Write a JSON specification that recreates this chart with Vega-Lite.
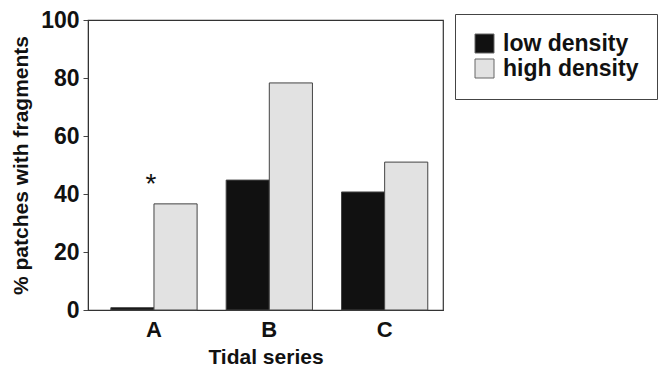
{
  "$schema": "https://vega.github.io/schema/vega-lite/v6.json",
  "width": 355,
  "height": 290,
  "autosize": "none",
  "padding": {"left": 88, "top": 20, "right": 215, "bottom": 59},
  "background": "white",
  "config": {
    "font": "Liberation Sans",
    "view": {"stroke": "#333", "strokeWidth": 1.2}
  },
  "datasets": {
    "bars": [
      {"series": "A", "density": "low density", "percent": 0.8},
      {"series": "A", "density": "high density", "percent": 36.6},
      {"series": "B", "density": "low density", "percent": 44.8},
      {"series": "B", "density": "high density", "percent": 78.3},
      {"series": "C", "density": "low density", "percent": 40.7},
      {"series": "C", "density": "high density", "percent": 51}
    ],
    "marks": [
      {"series": "A", "label": "*", "percent": 46}
    ]
  },
  "layer": [
    {
      "data": {"name": "bars"},
      "mark": {"type": "bar", "stroke": "#444", "strokeWidth": 1},
      "encoding": {
        "x": {
          "field": "series", "type": "nominal",
          "scale": {"paddingInner": 0.252, "paddingOuter": 0.165, "align": 0.6},
          "axis": {
            "title": "Tidal series", "labelAngle": 0, "labelFontSize": 22, "labelFontWeight": "bold",
            "labelColor": "#111", "titleFontSize": 21, "titleFontWeight": "bold", "titleColor": "#111",
            "ticks": false, "domain": true, "domainColor": "#333", "labelPadding": 9, "titlePadding": 6
          }
        },
        "xOffset": {"field": "density", "type": "nominal", "sort": ["low density", "high density"]},
        "y": {
          "field": "percent", "type": "quantitative",
          "scale": {"domain": [0, 100], "nice": false},
          "axis": {
            "title": "% patches with fragments", "values": [0, 10, 20, 30, 40, 50, 60, 70, 80, 90, 100],
            "labelExpr": "datum.value % 20 === 0 ? datum.label : ''",
            "labelFontSize": 23, "labelFontWeight": "bold", "labelColor": "#111",
            "titleFontSize": 21, "titleFontWeight": "bold", "titleColor": "#111",
            "grid": false, "domainColor": "#333", "tickColor": "#444",
            "tickSize": 5, "labelPadding": 4, "titlePadding": 9
          }
        },
        "fill": {
          "field": "density", "type": "nominal", "sort": ["low density", "high density"],
          "scale": {"domain": ["low density", "high density"], "range": ["#111111", "#e2e2e2"]},
          "legend": {
            "title": null, "orient": "none", "legendX": 367, "legendY": -6,
            "direction": "vertical", "symbolType": "square", "symbolSize": 361,
            "symbolStrokeColor": "#666", "symbolStrokeWidth": 1,
            "labelFontSize": 23, "labelFontWeight": "bold", "labelColor": "#111",
            "strokeColor": "#444", "padding": 18, "rowPadding": 1,
            "labelOffset": 7, "offset": 0, "labelLimit": 300
          }
        }
      }
    },
    {
      "data": {"name": "marks"},
      "mark": {"type": "text", "fontSize": 28, "color": "#111", "baseline": "middle", "dy": 8, "dx": -3},
      "encoding": {
        "x": {"field": "series", "type": "nominal"},
        "y": {"field": "percent", "type": "quantitative"},
        "text": {"field": "label"}
      }
    }
  ]
}
